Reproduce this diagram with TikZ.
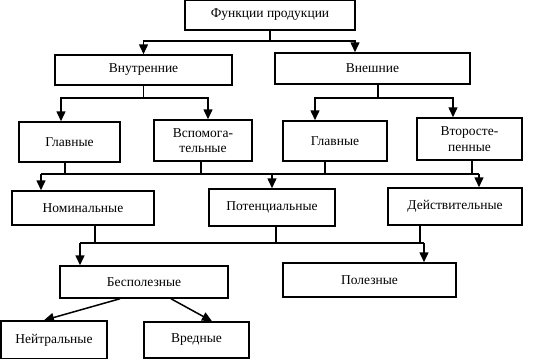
\documentclass[tikz,border=0pt]{standalone}
\usepackage{fontspec}
\setmainfont{Liberation Serif}
\usetikzlibrary{arrows.meta}

\begin{document}
\begin{tikzpicture}[x=1pt,y=-1pt,->,>={Triangle[length=10pt,width=9pt]},line width=1.5pt,
	  box/.style={draw,rectangle,inner sep=1pt,align=center,font=\fontsize{13.5}{15.5}\selectfont}]
	  \useasboundingbox (0,0) rectangle (539,359);

	  % levels
	  \node[box,minimum width=170pt,minimum height=30pt] (func) at (270,15) {Функции продукции};
	  \node[box,minimum width=177pt,minimum height=30pt] (inner) at (143.5,70) {Внутренние};
	  \node[box,minimum width=195pt,minimum height=31pt] (outer) at (372.5,68.5) {Внешние};
	  \node[box,minimum width=101pt,minimum height=40pt] (main1) at (69.5,142) {Главные};
	  \node[box,minimum width=98pt,minimum height=41pt] (aux) at (203,140.5) {Вспомога-\\тельные};
	  \node[box,minimum width=104pt,minimum height=40pt] (main2) at (335,141) {Главные};
	  \node[box,minimum width=105pt,minimum height=42pt] (second) at (469.5,139) {Второсте-\\пенные};
	  \node[box,minimum width=142pt,minimum height=34pt] (nom) at (83,208) {Номинальные};
	  \node[box,minimum width=126pt,minimum height=37pt] (pot) at (272,207.5) {Потенциальные};
	  \node[box,minimum width=134pt,minimum height=37pt] (act) at (455,206.5) {Действительные};
	  \node[box,minimum width=168pt,minimum height=32pt] (useless) at (144,282) {Бесполезные};
	  \node[box,minimum width=173pt,minimum height=34pt] (useful) at (369.5,280) {Полезные};
	  \node[box,minimum width=106pt,minimum height=38pt] (neutral) at (54,340) {Нейтральные};
	  \node[box,minimum width=105pt,minimum height=36pt] (harm) at (196.5,340) {Вредные};

	  \coordinate (bus3) at (0,174);
	  \coordinate (bus4) at (0,243);

	  \draw (func.south) -- ++(0,10) -| (inner.north);
	  \draw (func.south) -- ++(0,10) -| ([xshift=-17.5pt]outer.north);
	  \draw (inner.south) -- ++(0,12) -| ([xshift=-8.5pt]main1.north);
	  \draw (inner.south) -- ++(0,12) -| ([xshift=5pt]aux.north);
	  \draw ([xshift=5.5pt]outer.south) -- ++(0,13) -| ([xshift=-20pt]main2.north);
	  \draw ([xshift=5.5pt]outer.south) -- ++(0,13) -| ([xshift=-16.5pt]second.north);

	  % common bus under the third row
	  \draw[-] ([xshift=-4.5pt]main1.south) -- ([xshift=-4.5pt]main1.south |- bus3);
	  \draw[-] ([xshift=-2pt]aux.south) -- ([xshift=-2pt]aux.south |- bus3);
	  \draw[-] ([xshift=-10pt]main2.south) -- ([xshift=-10pt]main2.south |- bus3);
	  \draw[-] ([xshift=2.5pt]second.south) -- ([xshift=2.5pt]second.south |- bus3);
	  \draw[-] ([xshift=-42pt]nom.north |- bus3) -- ([xshift=24pt]act.north |- bus3);
	  \draw ([xshift=-42pt]nom.north |- bus3) -- ([xshift=-42pt]nom.north);
	  \draw (pot.north |- bus3) -- (pot.north);
	  \draw ([xshift=24pt]act.north |- bus3) -- ([xshift=24pt]act.north);

	  % common bus under the fourth row
	  \draw[-] ([xshift=12pt]nom.south) -- ([xshift=12pt]nom.south |- bus4);
	  \draw[-] ([xshift=4pt]pot.south) -- ([xshift=4pt]pot.south |- bus4);
	  \draw[-] ([xshift=-35pt]act.south) -- ([xshift=-35pt]act.south |- bus4);
	  \draw[-] ([xshift=-64pt]useless.north |- bus4) -- ([xshift=54.5pt]useful.north |- bus4);
	  \draw ([xshift=-64pt]useless.north |- bus4) -- ([xshift=-64pt]useless.north);
	  \draw ([xshift=54.5pt]useful.north |- bus4) -- ([xshift=54.5pt]useful.north);

	  \draw ([xshift=-24pt]useless.south) -- ([xshift=-10pt]neutral.north);
	  \draw ([xshift=27pt]useless.south) -- ([xshift=15.5pt]harm.north);
	\end{tikzpicture}
\end{document}
